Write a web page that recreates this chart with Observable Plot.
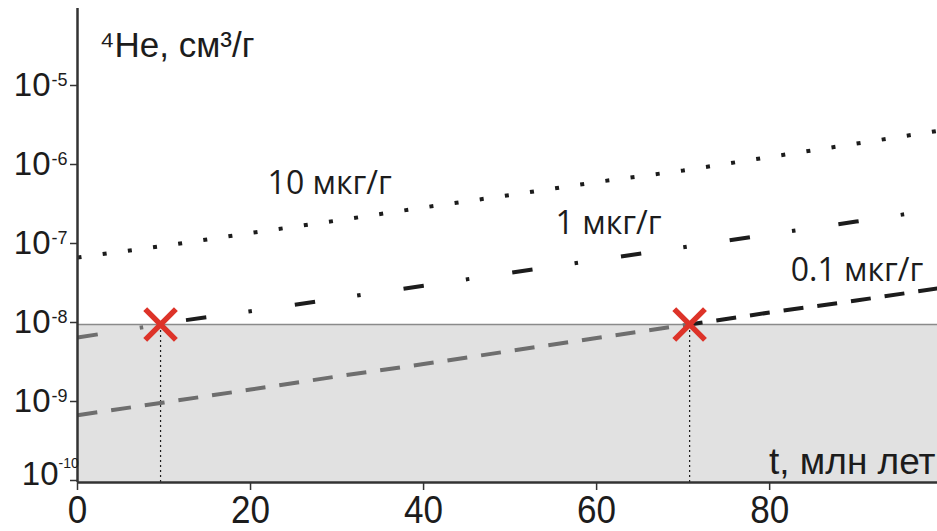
<!DOCTYPE html>
<html>
<head>
<meta charset="utf-8">
<script src="https://cdn.jsdelivr.net/npm/d3@7"></script>
<script src="https://cdn.jsdelivr.net/npm/@observablehq/plot@0.6"></script>
<style>
  html, body { margin: 0; padding: 0; background: #fff; }
  #chart { width: 937px; height: 531px; }
</style>
</head>
<body>
<div id="chart"></div>
<script>
// ---- data ----
const tValues = [0, 10, 20, 30, 40, 50, 60, 70, 80, 90, 99.4];          // t, млн лет
const he10  = [7.05e-8, 9.9e-8, 1.44e-7, 2.07e-7, 3.03e-7, 4.35e-7, 6.36e-7, 8.9e-7, 1.32e-6, 1.95e-6, 2.82e-6]; // 10 мкг/г
const he1   = [6.84e-9, 1.04e-8, 1.47e-8, 2.13e-8, 3.10e-8, 4.51e-8, 6.55e-8, 9.51e-8, 1.39e-7, 2.01e-7, 2.87e-7]; // 1 мкг/г
const he01  = [7.1e-10, 1.03e-9, 1.50e-9, 2.20e-9, 3.16e-9, 4.62e-9, 6.75e-9, 9.8e-9, 1.42e-8, 2.01e-8, 2.86e-8]; // 0.1 мкг/г
const crossT = [9.6, 70.75];            // times where 1 and 0.1 мкг/г curves reach the threshold
const threshold = 1e-8;                  // detection limit, см3/г
const seriesLabels = ["10 мкг/г", "1 мкг/г", "0.1 мкг/г"];
const xTicks = [0, 20, 40, 60, 80];
const yTicks = [1e-5, 1e-6, 1e-7, 1e-8, 1e-9];
const yExponents = ["-5", "-6", "-7", "-8", "-9"];
const yBottomTick = [1e-10];
const yBottomExponent = ["-10"];
const yTitle = "⁴He, см³/г";
const xTitle = "t, млн лет";

// ---- build tables ----
const xMax = 99.4, yMin = 1e-10, yMax = 1e-4;
const pts = (vs) => tValues.map((t, i) => ({t, v: vs[i]}));
function split(vs, tc) {
  const all = pts(vs);
  const lower = all.filter(d => d.t < tc).concat([{t: tc, v: threshold}]);
  const upper = [{t: tc, v: threshold}].concat(all.filter(d => d.t > tc));
  return {lower, upper};
}
const s10 = pts(he10);
const s1 = split(he1, crossT[0]);
const s01 = split(he01, crossT[1]);

const ink = "#1c1c1c";
const grayLine = "#6e6e6e";
const axisFont = "'Liberation Sans', Arial, sans-serif";
const labelFont = "'Open Sans', 'Noto Sans', sans-serif";
const dotDash = "20.5 42.5 3.5 43.4";
const dash = "20 14";

const chart = Plot.plot({
  width: 937,
  height: 531,
  marginLeft: 77,
  marginRight: 0,
  marginTop: 8,
  marginBottom: 49,
  style: {background: "#fff", fontFamily: axisFont, color: ink},
  x: {domain: [0, xMax], axis: null},
  y: {type: "log", domain: [yMin, yMax], axis: null},
  marks: [
    // shaded region below detection limit
    Plot.rect([threshold], {x1: () => 0, x2: () => xMax, y1: () => yMin, y2: d => d, fill: "#e1e1e1"}),
    Plot.ruleY([threshold], {stroke: "#8a8a8a", strokeWidth: 1.5}),
    // vertical dotted drop lines
    Plot.ruleX(crossT, {x: d => d, y1: () => yMin, y2: () => threshold, stroke: ink, strokeWidth: 1.2, strokeDasharray: "2 3"}),
    // 10 мкг/г dotted
    Plot.line(s10, {x: "t", y: "v", stroke: ink, strokeWidth: 4, strokeDasharray: "4 21.4", strokeLinecap: "butt"}),
    // 1 мкг/г dot-dash (gray below limit, black above)
    Plot.line(s1.lower, {x: "t", y: "v", stroke: grayLine, strokeWidth: 4, strokeDasharray: dotDash, strokeLinecap: "butt"}),
    Plot.line(s1.upper, {x: "t", y: "v", stroke: ink, strokeWidth: 4, strokeDasharray: dotDash, strokeDashoffset: 84, strokeLinecap: "butt"}),
    // 0.1 мкг/г dashed
    Plot.line(s01.lower, {x: "t", y: "v", stroke: grayLine, strokeWidth: 4, strokeDasharray: dash, strokeLinecap: "butt"}),
    Plot.line(s01.upper, {x: "t", y: "v", stroke: ink, strokeWidth: 4, strokeDasharray: dash, strokeDashoffset: 619, strokeLinecap: "butt"}),
    // red crosses
    Plot.dot(crossT, {x: d => d, y: () => threshold, symbol: "times", r: 14, stroke: "#dd3329", strokeWidth: 5.5}),
    // axis lines
    Plot.ruleX([0], {stroke: "#333", strokeWidth: 2.5}),
    Plot.ruleY([yMin], {stroke: "#333", strokeWidth: 2.5}),
    // x axis
    Plot.axisX({ticks: xTicks, tickSize: 8, tickPadding: 6, fontSize: 38, label: null, tickFormat: d => String(d), stroke: "#333", strokeWidth: 1.5, fill: ink}),
    // y axis
    Plot.axisY({ticks: yTicks.concat(yBottomTick), tickSize: 7, tickPadding: 20, fontSize: 33, label: null,
                tickFormat: d => d === yBottomTick[0] ? "" : "10", dy: -2, stroke: "#333", strokeWidth: 1.5, fill: ink}),
    Plot.text(yExponents, {y: (d, i) => yTicks[i], text: d => d, frameAnchor: "left", dx: -26, dy: -7, textAnchor: "start", fontSize: 18, fill: ink}),
    Plot.text(yBottomTick, {y: d => d, text: () => "10", frameAnchor: "left", dx: -19, dy: -8, textAnchor: "end", fontSize: 33, fill: ink}),
    Plot.text(yBottomExponent, {y: () => yBottomTick[0], text: d => d, frameAnchor: "left", dx: -19, dy: -19, textAnchor: "start", fontSize: 14, fill: ink}),
    // titles
    Plot.text([yTitle], {text: d => d, frameAnchor: "top-left", dx: 22, dy: 24, lineAnchor: "top", textAnchor: "start", fontSize: 35, fill: ink}),
    Plot.text([xTitle], {text: d => d, frameAnchor: "bottom-right", dx: -2, dy: -20, lineAnchor: "middle", textAnchor: "end", fontSize: 37, fill: ink}),
    // series labels
    Plot.text(seriesLabels, {
      text: d => d,
      x: [21.97, 55.26, 82.43],
      y: [6.0e-7, 1.87e-7, 4.83e-8],
      textAnchor: "start", lineAnchor: "middle", fontSize: 32, fontFamily: labelFont, fill: ink
    })
  ]
});
// condense the x tick labels (the reference uses a narrow face)
d3.select(chart).selectAll('[aria-label^="x-axis"] text').each(function() {
  const s = this.textContent;
  if (/^\d+$/.test(s)) {
    this.setAttribute("textLength", s.length * 19.5);
    this.setAttribute("lengthAdjust", "spacingAndGlyphs");
  }
});
document.getElementById("chart").appendChild(chart);
</script>
</body>
</html>
